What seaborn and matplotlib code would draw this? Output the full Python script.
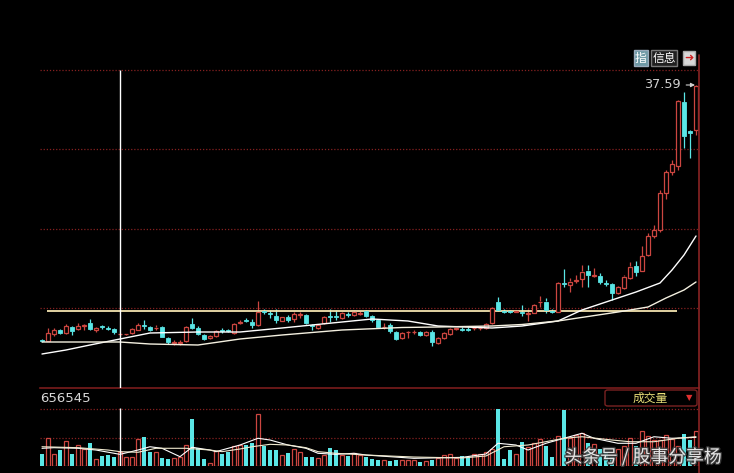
import numpy as np
import pandas as pd
import matplotlib
matplotlib.use("Agg")
import matplotlib.pyplot as plt
import matplotlib.patheffects as pe
import seaborn as sns
from matplotlib.patches import FancyBboxPatch
from matplotlib.lines import Line2D

# daily candles (price)
opens = [12.09, 11.99, 12.69, 13.09, 12.79, 13.39, 13.19, 13.49, 13.79, 13.09,
         13.44, 13.29, 13.19, 12.69, 12.69, 12.79, 13.09, 13.54, 13.39, 13.29,
         13.39, 12.29, 11.84, 11.84, 11.99, 13.69, 13.29, 12.59, 12.29, 12.49,
         13.04, 13.04, 12.79, 13.84, 14.09, 13.94, 13.59, 14.99, 14.79, 14.54,
         14.04, 14.39, 14.19, 14.64, 14.59, 13.59, 13.29, 13.79, 14.44, 14.44,
         14.29, 14.69, 14.59, 14.74, 14.99, 14.49, 14.09, 13.39, 13.59, 12.89,
         12.29, 12.89, 12.89, 12.94, 12.59, 12.94, 11.79, 12.29, 12.69, 13.19,
         13.19, 13.19, 13.29, 13.29, 13.29, 13.79, 15.89, 14.99, 14.99, 14.94,
         14.84, 14.74, 14.84, 15.89, 15.94, 14.99, 14.94, 17.79, 17.59, 18.04,
         18.19, 19.04, 18.54, 18.49, 17.79, 17.69, 16.79, 17.29, 18.29, 19.49,
         19.04, 20.59, 22.49, 23.09, 26.79, 28.89, 29.49, 35.84, 32.99, 33.09]
highs = [12.19, 13.29, 13.29, 13.19, 13.69, 13.49, 13.79, 13.69, 14.19, 13.39,
         13.59, 13.49, 13.29, 12.79, 12.79, 13.29, 13.79, 14.09, 13.49, 13.59,
         13.49, 12.39, 12.09, 12.09, 13.49, 14.29, 13.49, 12.69, 12.59, 13.09,
         13.29, 13.19, 13.79, 14.09, 14.29, 14.19, 15.99, 15.19, 15.09, 15.19,
         14.49, 14.59, 14.89, 14.89, 14.69, 13.69, 13.69, 14.49, 15.19, 15.09,
         14.89, 14.89, 15.09, 14.99, 15.09, 14.59, 14.19, 13.79, 13.79, 12.99,
         12.89, 12.99, 13.09, 12.99, 12.99, 13.09, 12.39, 12.89, 13.29, 13.39,
         13.39, 13.39, 13.49, 13.49, 13.79, 15.39, 16.39, 15.19, 15.09, 15.09,
         15.59, 15.19, 15.69, 16.44, 16.29, 15.19, 17.89, 19.19, 18.29, 18.59,
         19.59, 19.59, 19.29, 18.79, 18.09, 17.79, 17.49, 18.59, 19.89, 19.99,
         21.44, 22.79, 23.59, 27.09, 29.09, 30.09, 36.09, 36.84, 33.09, 37.59]
lows = [11.89, 11.99, 12.49, 12.69, 12.69, 12.59, 13.09, 13.09, 13.09, 12.89,
        13.19, 13.09, 12.69, 12.59, 12.59, 12.69, 13.09, 13.19, 12.99, 13.09,
        12.39, 11.69, 11.59, 11.59, 11.89, 13.19, 12.59, 12.09, 12.19, 12.39,
        12.79, 12.89, 12.69, 13.69, 13.89, 13.29, 13.49, 14.69, 14.29, 13.79,
        13.99, 13.89, 13.89, 14.29, 13.69, 13.09, 13.19, 13.69, 13.89, 14.09,
        14.19, 14.39, 14.49, 14.59, 14.39, 13.89, 13.29, 13.19, 12.79, 12.09,
        12.19, 12.29, 12.69, 12.49, 12.49, 11.49, 11.69, 12.19, 12.59, 13.09,
        12.99, 12.99, 13.09, 13.09, 13.19, 13.69, 14.99, 14.79, 14.79, 14.89,
        14.49, 13.99, 14.79, 15.39, 14.79, 14.79, 14.89, 17.39, 16.89, 17.79,
        17.39, 17.39, 18.39, 17.69, 17.49, 16.09, 16.69, 17.19, 18.19, 18.49,
        18.99, 20.49, 22.29, 22.89, 26.19, 28.59, 29.09, 31.29, 30.29, 32.59]
closes = [11.99, 12.79, 13.09, 12.79, 13.49, 12.99, 13.49, 13.59, 13.19, 13.29,
          13.39, 13.24, 12.89, 12.74, 12.74, 13.19, 13.59, 13.49, 13.09, 13.34,
          12.39, 11.89, 11.89, 11.89, 13.39, 13.29, 12.69, 12.19, 12.49, 12.99,
          12.99, 12.99, 13.69, 13.89, 14.04, 13.59, 14.89, 14.94, 14.74, 14.09,
          14.44, 14.09, 14.69, 14.69, 13.79, 13.54, 13.59, 14.39, 14.39, 14.39,
          14.79, 14.64, 14.89, 14.79, 14.49, 14.09, 13.39, 13.44, 12.99, 12.19,
          12.79, 12.94, 12.94, 12.59, 12.94, 11.89, 12.29, 12.79, 13.19, 13.34,
          13.14, 13.14, 13.34, 13.34, 13.69, 15.29, 15.09, 14.94, 14.94, 14.99,
          14.79, 14.79, 15.59, 15.94, 15.09, 14.94, 17.79, 17.74, 17.94, 18.09,
          18.94, 18.59, 18.59, 17.94, 17.74, 16.84, 17.39, 18.44, 19.44, 18.94,
          20.49, 22.49, 23.09, 26.79, 28.89, 29.69, 35.99, 32.49, 32.74, 37.44]
volumes = [142000, 328000, 142000, 182000, 290000, 135000, 247000, 193000, 270000, 85000,
           112000, 124000, 104000, 162000, 104000, 104000, 316000, 332000, 162000, 162000,
           96000, 78000, 93000, 104000, 247000, 541000, 208000, 85000, 38000, 170000,
           135000, 162000, 232000, 240000, 240000, 270000, 606000, 232000, 182000, 182000,
           124000, 154000, 193000, 162000, 104000, 104000, 93000, 131000, 208000, 182000,
           124000, 116000, 151000, 131000, 110000, 78000, 66000, 73000, 58000, 66000,
           66000, 73000, 73000, 46000, 58000, 66000, 89000, 127000, 135000, 89000,
           116000, 104000, 135000, 142000, 166000, 193000, 656545, 81000, 182000, 135000,
           278000, 220000, 270000, 309000, 232000, 104000, 347000, 654000, 328000, 359000,
           386000, 270000, 251000, 193000, 154000, 104000, 193000, 232000, 321000, 232000,
           405000, 347000, 298000, 298000, 359000, 309000, 232000, 374000, 298000, 405000]

# moving average lines (day index, value)
ma_a_idx = [0, 4, 8, 13, 18, 26, 33, 40, 50, 55, 61, 66, 75, 80, 86, 90, 95, 99, 103, 105, 107, 109]
ma_a_val = [10.69, 11.09, 11.59, 12.19, 12.79, 12.89, 12.89, 13.29, 13.89, 14.19, 13.99,
            13.49, 13.29, 13.49, 13.99, 15.09, 16.09, 16.89, 17.79, 19.09, 20.59, 22.49]
ma_b_idx = [0, 13, 18, 26, 33, 40, 50, 60, 66, 75, 80, 86, 96, 101, 104, 107, 109]
ma_b_val = [11.89, 11.89, 11.69, 11.59, 12.19, 12.59, 13.09, 13.34, 13.39, 13.49, 13.64,
            13.99, 14.89, 15.39, 16.29, 17.09, 17.89]
vma_a_idx = [0, 2, 6, 9, 13, 16, 18, 20, 23, 25, 28, 29, 33, 36, 38, 41, 44, 46, 49, 52,
             54, 62, 70, 74, 76, 79, 81, 84, 87, 90, 92, 96, 99, 102, 105, 109]
vma_a_val = [205000, 212000, 205000, 185000, 135000, 185000, 223000, 205000, 108000, 217000,
             185000, 166000, 243000, 321000, 301000, 243000, 205000, 147000, 135000, 147000,
             127000, 89000, 100000, 139000, 263000, 243000, 185000, 263000, 321000, 379000,
             321000, 263000, 263000, 339000, 321000, 332000]
vma_b_idx = [0, 6, 11, 13, 16, 19, 24, 28, 30, 33, 35, 38, 41, 44, 46, 49, 54, 62, 70, 74,
             77, 81, 87, 90, 95, 98, 102, 106, 109]
vma_b_val = [223000, 212000, 185000, 166000, 159000, 205000, 205000, 185000, 166000, 197000,
             223000, 251000, 243000, 212000, 166000, 147000, 127000, 104000, 93000, 116000,
             223000, 243000, 321000, 339000, 301000, 281000, 281000, 321000, 339000]

support_level = 14.99
cursor_day = 13
last_high = 37.59
vol_max = 656545

df = pd.DataFrame({"open": opens, "high": highs, "low": lows,
                   "close": closes, "volume": volumes})
df["day"] = np.arange(len(df))
df["up"] = df["close"] >= df["open"]

RED = "#cc4640"
CYAN = "#5ae6e6"
GRID = "#862020"
BG = "black"

sns.set_style("dark", {"axes.facecolor": BG, "figure.facecolor": BG})
plt.rcParams["font.family"] = ["DejaVu Sans", "Noto Sans CJK SC"]
CJK = ["Noto Sans CJK SC", "DejaVu Sans"]

W, H = 734, 473
fig = plt.figure(figsize=(W / 100, H / 100), dpi=100)
fig.patch.set_facecolor(BG)
ax = fig.add_axes([40 / W, 85 / H, 659 / W, 320 / H])
axv = fig.add_axes([40 / W, 7 / H, 659 / W, 77 / H])

x_lo, x_hi = -0.33, 109.5
p_lo, p_hi = 7.29, 39.29
v_hi = 891660

# ---- price panel
up = df[df["up"]]
dn = df[~df["up"]]
body_w = 0.74
wick_colors = np.where(df["up"], RED, CYAN)

ax.vlines(df["day"], df["low"], df[["open", "close"]].min(axis=1),
          colors=wick_colors, lw=0.9)
ax.vlines(df["day"], df[["open", "close"]].max(axis=1), df["high"],
          colors=wick_colors, lw=0.9)
ax.bar(up["day"], np.maximum(up["close"] - up["open"], 0.04), bottom=up["open"],
       width=body_w, facecolor=BG, edgecolor=RED, lw=0.9, zorder=3)
ax.bar(dn["day"], np.maximum(dn["open"] - dn["close"], 0.06), bottom=dn["close"],
       width=body_w, color=CYAN, edgecolor=CYAN, lw=0.6, zorder=3)

sns.lineplot(x=ma_a_idx, y=ma_a_val, ax=ax, color="white", lw=1.0, zorder=4)
sns.lineplot(x=ma_b_idx, y=ma_b_val, ax=ax, color="#f4f0e0", lw=1.0, zorder=4)

ax.hlines(support_level, 0.8, 105.8, color="#f3e4b0", lw=1.3, zorder=2)
ax.vlines(cursor_day, p_lo, 39.09, color="white", lw=1.0, zorder=5)

ax.set_xlim(x_lo, x_hi)
ax.set_ylim(p_lo, p_hi)
ax.set_xticks([])
ax.set_yticks([15.29, 23.19, 31.19, 39.09])
ax.grid(False)
for v in ax.get_yticks():
    ax.axhline(v, color=GRID, lw=0.9, ls=(0, (1, 1.5)), zorder=1)
ax.tick_params(left=False, labelleft=False, bottom=False, labelbottom=False)
for s in ["top", "left", "right"]:
    ax.spines[s].set_visible(False)
ax.spines["bottom"].set_color("#7a1c1c")
ax.spines["bottom"].set_linewidth(1.2)

ax.text(106.5, last_high, f"{last_high:.2f}", ha="right", va="center",
        color="#d0d0d0", fontsize=9.3)
ax.annotate("", xy=(109.3, last_high), xytext=(106.9, last_high),
            arrowprops=dict(arrowstyle="-|>", color="#d0d0d0", lw=0.8,
                            mutation_scale=6))

# ---- volume panel
axv.bar(up["day"], up["volume"], width=0.72, facecolor=BG, edgecolor=RED, lw=0.9)
axv.bar(dn["day"], dn["volume"], width=0.72, color=CYAN, lw=0)
sns.lineplot(x=vma_a_idx, y=vma_a_val, ax=axv, color="white", lw=0.8)
sns.lineplot(x=vma_b_idx, y=vma_b_val, ax=axv, color="#f0ead0", lw=0.8)
axv.vlines(cursor_day, 0, 671000, color="white", lw=1.0, zorder=5)
axv.set_xlim(x_lo, x_hi)
axv.set_ylim(0, v_hi)
axv.set_xticks([])
axv.set_yticks([])
axv.grid(False)
for v in [vol_max, vol_max / 2]:
    axv.axhline(v, color=GRID, lw=0.9, ls=(0, (1, 1.5)), zorder=0)
for s in axv.spines.values():
    s.set_visible(False)

fig.text(40 / W, 1 - 398 / H, str(vol_max), color="#d8d8d8", fontsize=9.5,
         ha="left", va="center")

# right border
fig.add_artist(Line2D([699 / W, 699 / W], [0, 1 - 55 / H], color="#8a2424", lw=1.2))

# volume indicator box
fig.add_artist(FancyBboxPatch((605 / W, 1 - 406 / H), 92 / W, 16 / H,
                              boxstyle="round,pad=0,rounding_size=0.004",
                              transform=fig.transFigure, facecolor=BG,
                              edgecolor="#7a2222", lw=1))
fig.text(650 / W, 1 - 398 / H, "成交量", color="#e8de78", fontsize=8.5,
         family=CJK, ha="center", va="center")
fig.text(689 / W, 1 - 398 / H, "▼", color="#e03030", fontsize=6,
         ha="center", va="center")

# top-right buttons
fig.text(641 / W, 1 - 58 / H, "指", color="white", fontsize=8.5, family=CJK,
         ha="center", va="center",
         bbox=dict(boxstyle="square,pad=0.1", facecolor="#6f9aa6", edgecolor="#9ab"))
fig.text(664 / W, 1 - 58 / H, "信息", color="white", fontsize=8.5, family=CJK,
         ha="center", va="center",
         bbox=dict(boxstyle="square,pad=0.1", facecolor="#202020", edgecolor="#777"))
fig.text(689 / W, 1 - 58 / H, "➜", color="#d02020", fontsize=8,
         ha="center", va="center",
         bbox=dict(boxstyle="square,pad=0.15", facecolor="#d8d8d8", edgecolor="#aaa"))

# watermark
fig.text(643 / W, 1 - 457 / H, "头条号 / 股事分享杨", color="white", alpha=0.85,
         fontsize=12.8, family=CJK, ha="center", va="center",
         path_effects=[pe.withStroke(linewidth=2, foreground="#404040")])

fig.savefig("out.png", dpi=100, facecolor=BG)
